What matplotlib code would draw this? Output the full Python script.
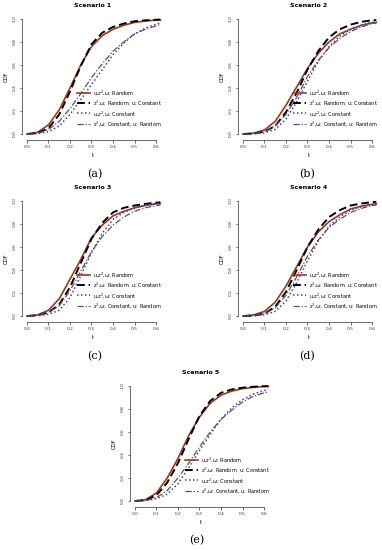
import numpy as np
import matplotlib as mpl
mpl.use("Agg")
import matplotlib.pyplot as plt

# time grid shared by all panels
t = [0.0, 0.05, 0.10, 0.15, 0.20, 0.25, 0.30, 0.35, 0.40, 0.45, 0.50, 0.55, 0.60, 0.62]

labels = [r"u,z$^2$,ω: Random",
          r"z$^2$,ω: Random, u: Constant",
          r"u,z$^2$,ω: Constant",
          r"z$^2$,ω: Constant, u: Random"]

titles = ["Scenario 1", "Scenario 2", "Scenario 3", "Scenario 4", "Scenario 5"]
captions = ["(a)", "(b)", "(c)", "(d)", "(e)"]

# CDF values: [random, z2w random, constant, z2w constant]
s1_random   = [0, 0.015, 0.08, 0.21, 0.40, 0.60, 0.76, 0.855, 0.91, 0.945, 0.97, 0.982, 0.99, 0.992]
s1_zrand    = [0, 0.008, 0.05, 0.17, 0.37, 0.59, 0.78, 0.88, 0.93, 0.96, 0.98, 0.988, 0.993, 0.995]
s1_const    = [0, 0.003, 0.02, 0.07, 0.17, 0.30, 0.43, 0.56, 0.69, 0.79, 0.87, 0.92, 0.955, 0.965]
s1_zconst   = [0, 0.006, 0.04, 0.11, 0.22, 0.35, 0.49, 0.61, 0.72, 0.80, 0.87, 0.91, 0.94, 0.95]

s2_random   = [0, 0.008, 0.035, 0.11, 0.25, 0.41, 0.57, 0.70, 0.80, 0.87, 0.91, 0.945, 0.965, 0.97]
s2_zrand    = [0, 0.004, 0.02, 0.07, 0.19, 0.36, 0.56, 0.72, 0.84, 0.91, 0.95, 0.975, 0.988, 0.99]
s2_const    = [0, 0.002, 0.01, 0.04, 0.13, 0.28, 0.46, 0.63, 0.76, 0.85, 0.91, 0.945, 0.97, 0.975]
s2_zconst   = [0, 0.004, 0.02, 0.07, 0.17, 0.32, 0.50, 0.64, 0.75, 0.83, 0.89, 0.93, 0.96, 0.965]

s3_random   = [0, 0.01, 0.05, 0.15, 0.32, 0.49, 0.68, 0.79, 0.87, 0.91, 0.94, 0.96, 0.975, 0.978]
s3_zrand    = [0, 0.006, 0.03, 0.10, 0.25, 0.46, 0.67, 0.81, 0.90, 0.94, 0.96, 0.975, 0.985, 0.988]
s3_const    = [0, 0.003, 0.015, 0.05, 0.16, 0.35, 0.55, 0.72, 0.84, 0.90, 0.94, 0.965, 0.98, 0.983]
s3_zconst   = [0, 0.006, 0.03, 0.09, 0.22, 0.39, 0.56, 0.69, 0.79, 0.86, 0.91, 0.94, 0.96, 0.965]

s4_random   = [0, 0.009, 0.04, 0.12, 0.26, 0.43, 0.60, 0.73, 0.82, 0.88, 0.93, 0.955, 0.97, 0.975]
s4_zrand    = [0, 0.004, 0.02, 0.08, 0.21, 0.40, 0.60, 0.75, 0.86, 0.92, 0.96, 0.978, 0.99, 0.992]
s4_const    = [0, 0.002, 0.01, 0.04, 0.13, 0.29, 0.48, 0.65, 0.78, 0.86, 0.92, 0.95, 0.97, 0.975]
s4_zconst   = [0, 0.004, 0.02, 0.07, 0.18, 0.34, 0.52, 0.66, 0.77, 0.84, 0.90, 0.935, 0.96, 0.965]

s5_random   = [0, 0.012, 0.07, 0.20, 0.37, 0.57, 0.73, 0.85, 0.92, 0.955, 0.977, 0.988, 0.995, 0.996]
s5_zrand    = [0, 0.007, 0.05, 0.16, 0.33, 0.54, 0.74, 0.87, 0.94, 0.97, 0.985, 0.993, 0.998, 0.998]
s5_const    = [0, 0.003, 0.02, 0.06, 0.15, 0.29, 0.44, 0.58, 0.71, 0.81, 0.88, 0.93, 0.96, 0.967]
s5_zconst   = [0, 0.005, 0.03, 0.09, 0.20, 0.33, 0.47, 0.60, 0.71, 0.79, 0.86, 0.91, 0.94, 0.948]

scenarios = [
    [s1_random, s1_zrand, s1_const, s1_zconst],
    [s2_random, s2_zrand, s2_const, s2_zconst],
    [s3_random, s3_zrand, s3_const, s3_zconst],
    [s4_random, s4_zrand, s4_const, s4_zconst],
    [s5_random, s5_zrand, s5_const, s5_zconst],
]

colors = ["#9a3a1e", "black", "#3a3ad0", "#555566"]
styles = ["-", (0, (4, 2)), (0, (1, 1.6)), (0, (5, 1.5, 1, 1.5))]
widths = [1.2, 1.4, 1.1, 0.9]

W, H = 382, 550
fig = plt.figure(figsize=(W / 100, H / 100), dpi=100)

# axes boxes in pixels: left, top, and caption position
boxes = [(22, 14, 95, 174), (238, 14, 307, 174),
         (22, 196, 95, 356), (238, 196, 307, 356),
         (130, 381, 197, 540)]
bw, bh = 142, 126

for i, (left, top, cx, cy) in enumerate(boxes):
    ax = fig.add_axes([left / W, 1 - (top + bh) / H, bw / W, bh / H])
    for k, ys in enumerate(scenarios[i]):
        ax.plot(t, ys, color=colors[k], linestyle=styles[k], lw=widths[k], label=labels[k])
    ax.set_xlim(-0.023, 0.637)
    ax.set_ylim(-0.052, 1.043)
    ax.set_xticks([0, 0.1, 0.2, 0.3, 0.4, 0.5, 0.6])
    ax.set_yticks([0, 0.2, 0.4, 0.6, 0.8, 1.0])
    ax.set_xticklabels(["0.0", "0.1", "0.2", "0.3", "0.4", "0.5", "0.6"])
    ax.set_yticklabels(["0.0", "0.2", "0.4", "0.6", "0.8", "1.0"], rotation=90, va="center")
    ax.spines["top"].set_visible(False)
    ax.spines["right"].set_visible(False)
    ax.spines["left"].set_bounds(0, 1)
    ax.spines["bottom"].set_bounds(0, 0.6)
    for s in ["left", "bottom"]:
        ax.spines[s].set_linewidth(0.5)
        ax.spines[s].set_color("#333333")
    ax.tick_params(length=1.8, width=0.5, labelsize=3.2, pad=2, colors="#333333")
    ax.set_xlabel("t", fontsize=3.8, labelpad=3)
    ax.set_ylabel("CDF", fontsize=3.8, labelpad=3)
    ax.set_title(titles[i], fontsize=4.5, fontweight="bold", pad=5)
    leg = ax.legend(loc="lower right", bbox_to_anchor=(1.02, 0.06), frameon=False,
                    fontsize=3.6, handlelength=2.6, labelspacing=0.3, handletextpad=0.6)
    fig.text(cx / W, 1 - cy / H, captions[i], ha="center", va="center",
             fontsize=8, family="DejaVu Serif")

fig.savefig("out.png", dpi=100)
